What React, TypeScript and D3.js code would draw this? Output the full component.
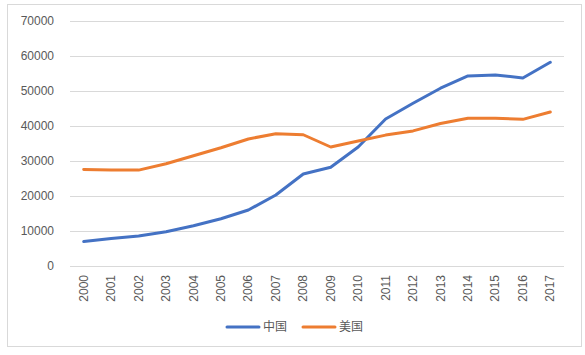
import React from "react";
import * as d3 from "d3";

const years = ["2000","2001","2002","2003","2004","2005","2006","2007","2008","2009","2010","2011","2012","2013","2014","2015","2016","2017"];
const china = [7000, 7850, 8600, 9800, 11500, 13500, 16000, 20300, 26300, 28200, 34000, 42000, 46500, 50800, 54300, 54600, 53700, 58200];
const usa = [27600, 27400, 27400, 29200, 31500, 33800, 36300, 37800, 37500, 34000, 35700, 37400, 38600, 40700, 42200, 42200, 41900, 44000];
const yTicks = [0, 10000, 20000, 30000, 40000, 50000, 60000, 70000];
const seriesNames = ["中国", "美国"];
const colors = ["#4472C4", "#ED7D31"];

export default function App() {
  const W = 585, H = 355;
  const left = 70, right = 564, top = 21, bottom = 266;
  const x = d3.scaleBand<string>().domain(years).range([left, right]);
  const y = d3.scaleLinear().domain([0, 70000]).range([bottom, top]);
  const line = d3.line<number>().x((_, i) => (x(years[i]) as number) + x.bandwidth() / 2).y(d => y(d));
  const font = "'Liberation Sans', Arial, 'Noto Sans CJK SC', sans-serif";
  const data = [china, usa];
  const legendX = [227, 303];
  return (
    <svg width={W} height={H} style={{ position: "absolute", left: 0, top: 0 }} fontFamily={font}>
      <rect x={0} y={0} width={W} height={H} fill="#fff" />
      <rect x={7.5} y={4.5} width={574} height={342} fill="#fff" stroke="#d9d9d9" />
      {yTicks.map(t => (
        <g key={t}>
          <line x1={left} x2={right} y1={Math.round(y(t)) + 0.5} y2={Math.round(y(t)) + 0.5} stroke="#d9d9d9" />
          <text x={54} y={y(t)} dy="0.35em" textAnchor="end" fontSize={12} fill="#595959">{t}</text>
        </g>
      ))}
      {years.map(yr => {
        const cx = (x(yr) as number) + x.bandwidth() / 2;
        return (
          <text key={yr} transform={`translate(${cx + 4},275) rotate(-90)`} textAnchor="end" fontSize={12} fill="#595959">{yr}</text>
        );
      })}
      {data.map((d, i) => (
        <path key={i} d={line(d) || ""} fill="none" stroke={colors[i]} strokeWidth={3} strokeLinejoin="round" strokeLinecap="round" />
      ))}
      {seriesNames.map((n, i) => (
        <g key={n}>
          <line x1={legendX[i]} x2={legendX[i] + 32} y1={327} y2={327} stroke={colors[i]} strokeWidth={3} strokeLinecap="round" />
          <text x={legendX[i] + 36} y={327} dy="0.35em" fontSize={12} fill="#595959" fontFamily="'Noto Sans CJK SC', sans-serif">{n}</text>
        </g>
      ))}
    </svg>
  );
}
